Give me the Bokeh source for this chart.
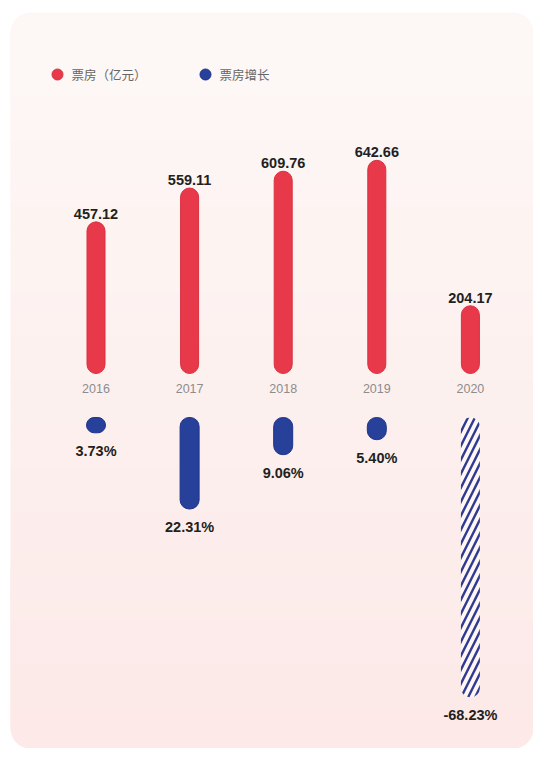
from bokeh.plotting import figure
from bokeh.models import Range1d, ColumnDataSource
from bokeh.embed import file_html
from bokeh.resources import INLINE
from bokeh.core.properties import value

# ---- data ----
years = [2016, 2017, 2018, 2019, 2020]
box_office = [457.12, 559.11, 609.76, 642.66, 204.17]   # 亿元
growth = [3.73, 22.31, 9.06, 5.40, -68.23]               # %
legend_labels = ["票房（亿元）", "票房增长"]

RED = "#e8394a"
RED_EDGE = "#d9303f"
BLUE = "#27409a"
BLUE_EDGE = "#1e3288"
HATCH = "#2f3b8f"

# ---- layout constants ----
W, H = 533, 748
px_per_year = 93.6
first_px = 95.5
x_start = years[0] - first_px / px_per_year
x_end = x_start + W / px_per_year

red_k = 0.3317          # px per 亿元
red_zero = 373          # px from top
y_start = -(H - red_zero) / red_k
y_end = red_zero / red_k

blue_k = 4.1            # px per %
blue_zero = 417
g_start = -(H - blue_zero) / blue_k
g_end = blue_zero / blue_k

p = figure(width=W, height=H, x_range=Range1d(x_start, x_end),
           y_range=Range1d(y_start, y_end),
           output_backend="svg", toolbar_location=None,
           x_axis_location=None, y_axis_location=None,
           min_border=0)
p.grid.visible = False
p.outline_line_color = None
p.background_fill_color = "white"
p.border_fill_color = "white"
p.extra_x_ranges = {"px": Range1d(0, W)}
p.extra_y_ranges = {"py": Range1d(H, 0), "g": Range1d(g_start, g_end)}

# ---- card background with soft vertical gradient ----
c_top = (253, 248, 246)
c_bot = (252, 233, 232)
def mix(t):
    r = [round(a + (b - a) * t) for a, b in zip(c_top, c_bot)]
    return "#%02x%02x%02x" % tuple(r)

card_l, card_r, card_t, card_b, rad = 10, W, 12, H, 20
p.quad(left=card_l, right=card_r, top=card_t, bottom=card_t + 200,
       x_range_name="px", y_range_name="py", fill_color=mix(0.0),
       line_color=None, border_radius=rad)
p.quad(left=card_l, right=card_r, top=card_b - 200, bottom=card_b,
       x_range_name="px", y_range_name="py", fill_color=mix(1.0),
       line_color=None, border_radius=rad)
n = 32
inner_t, inner_b = card_t + rad, card_b - rad
step = (inner_b - inner_t) / n
lefts, rights, tops, bottoms, cols = [], [], [], [], []
for i in range(n):
    lefts.append(card_l); rights.append(card_r)
    tops.append(inner_t + i * step)
    bottoms.append(inner_t + (i + 1) * step + 0.8)
    cols.append(mix((i + 0.5) / n))
p.quad(left=lefts, right=rights, top=tops, bottom=bottoms,
       x_range_name="px", y_range_name="py", fill_color=cols, line_color=None)

# ---- legend ----
p.scatter(x=[57, 205], y=[74, 74], size=11, fill_color=[RED, BLUE],
          line_color=[RED_EDGE, BLUE_EDGE], x_range_name="px", y_range_name="py")
p.text(x=[71, 219], y=[74, 74], text=legend_labels, x_range_name="px",
       y_range_name="py", text_baseline="middle", text_align="left",
       text_font=value("Noto Sans CJK SC"), text_font_size="12.5px",
       text_color="#666666")

# ---- box office bars ----
src = ColumnDataSource(dict(x=years, top=box_office,
                            lab=[f"{v:.2f}" for v in box_office],
                            yl=[str(y) for y in years], zero=[0] * len(years)))
p.vbar(x="x", width=18 / px_per_year, bottom="zero", top="top", source=src,
       fill_color=RED, line_color=RED_EDGE, line_width=1, border_radius=9)
p.text(x="x", y="top", text="lab", source=src, y_offset=-8,
       text_baseline="alphabetic", text_align="center",
       text_font=value("Liberation Sans"), text_font_style="bold",
       text_font_size="14.5px", text_color="#231f20")
p.text(x="x", y="zero", text="yl", source=src, y_offset=15,
       text_baseline="middle", text_align="center",
       text_font=value("Liberation Sans"), text_font_size="12.5px",
       text_color="#8c8c8c")

# ---- growth bars ----
pos = [(x, g) for x, g in zip(years, growth) if g >= 0]
neg = [(x, g) for x, g in zip(years, growth) if g < 0]
gw = 19 / px_per_year
p.vbar(x=[x for x, g in pos], width=gw, top=0, bottom=[-abs(g) for x, g in pos],
       y_range_name="g", fill_color=BLUE, line_color=BLUE_EDGE, line_width=1,
       border_radius=9)
p.vbar(x=[x for x, g in neg], width=gw, top=0, bottom=[-abs(g) for x, g in neg],
       y_range_name="g", fill_color="#ffffff", fill_alpha=0.5, line_color=None,
       hatch_pattern="/", hatch_color=HATCH, hatch_scale=14, hatch_weight=2.4,
       border_radius=9)
p.text(x=years, y=[-abs(g) for g in growth], text=[f"{g:.2f}%" for g in growth],
       y_range_name="g", y_offset=10, text_baseline="top", text_align="center",
       text_font=value("Liberation Sans"), text_font_style="bold",
       text_font_size="14.5px", text_color="#231f20")

open("out.html", "w").write(file_html(p, INLINE))
